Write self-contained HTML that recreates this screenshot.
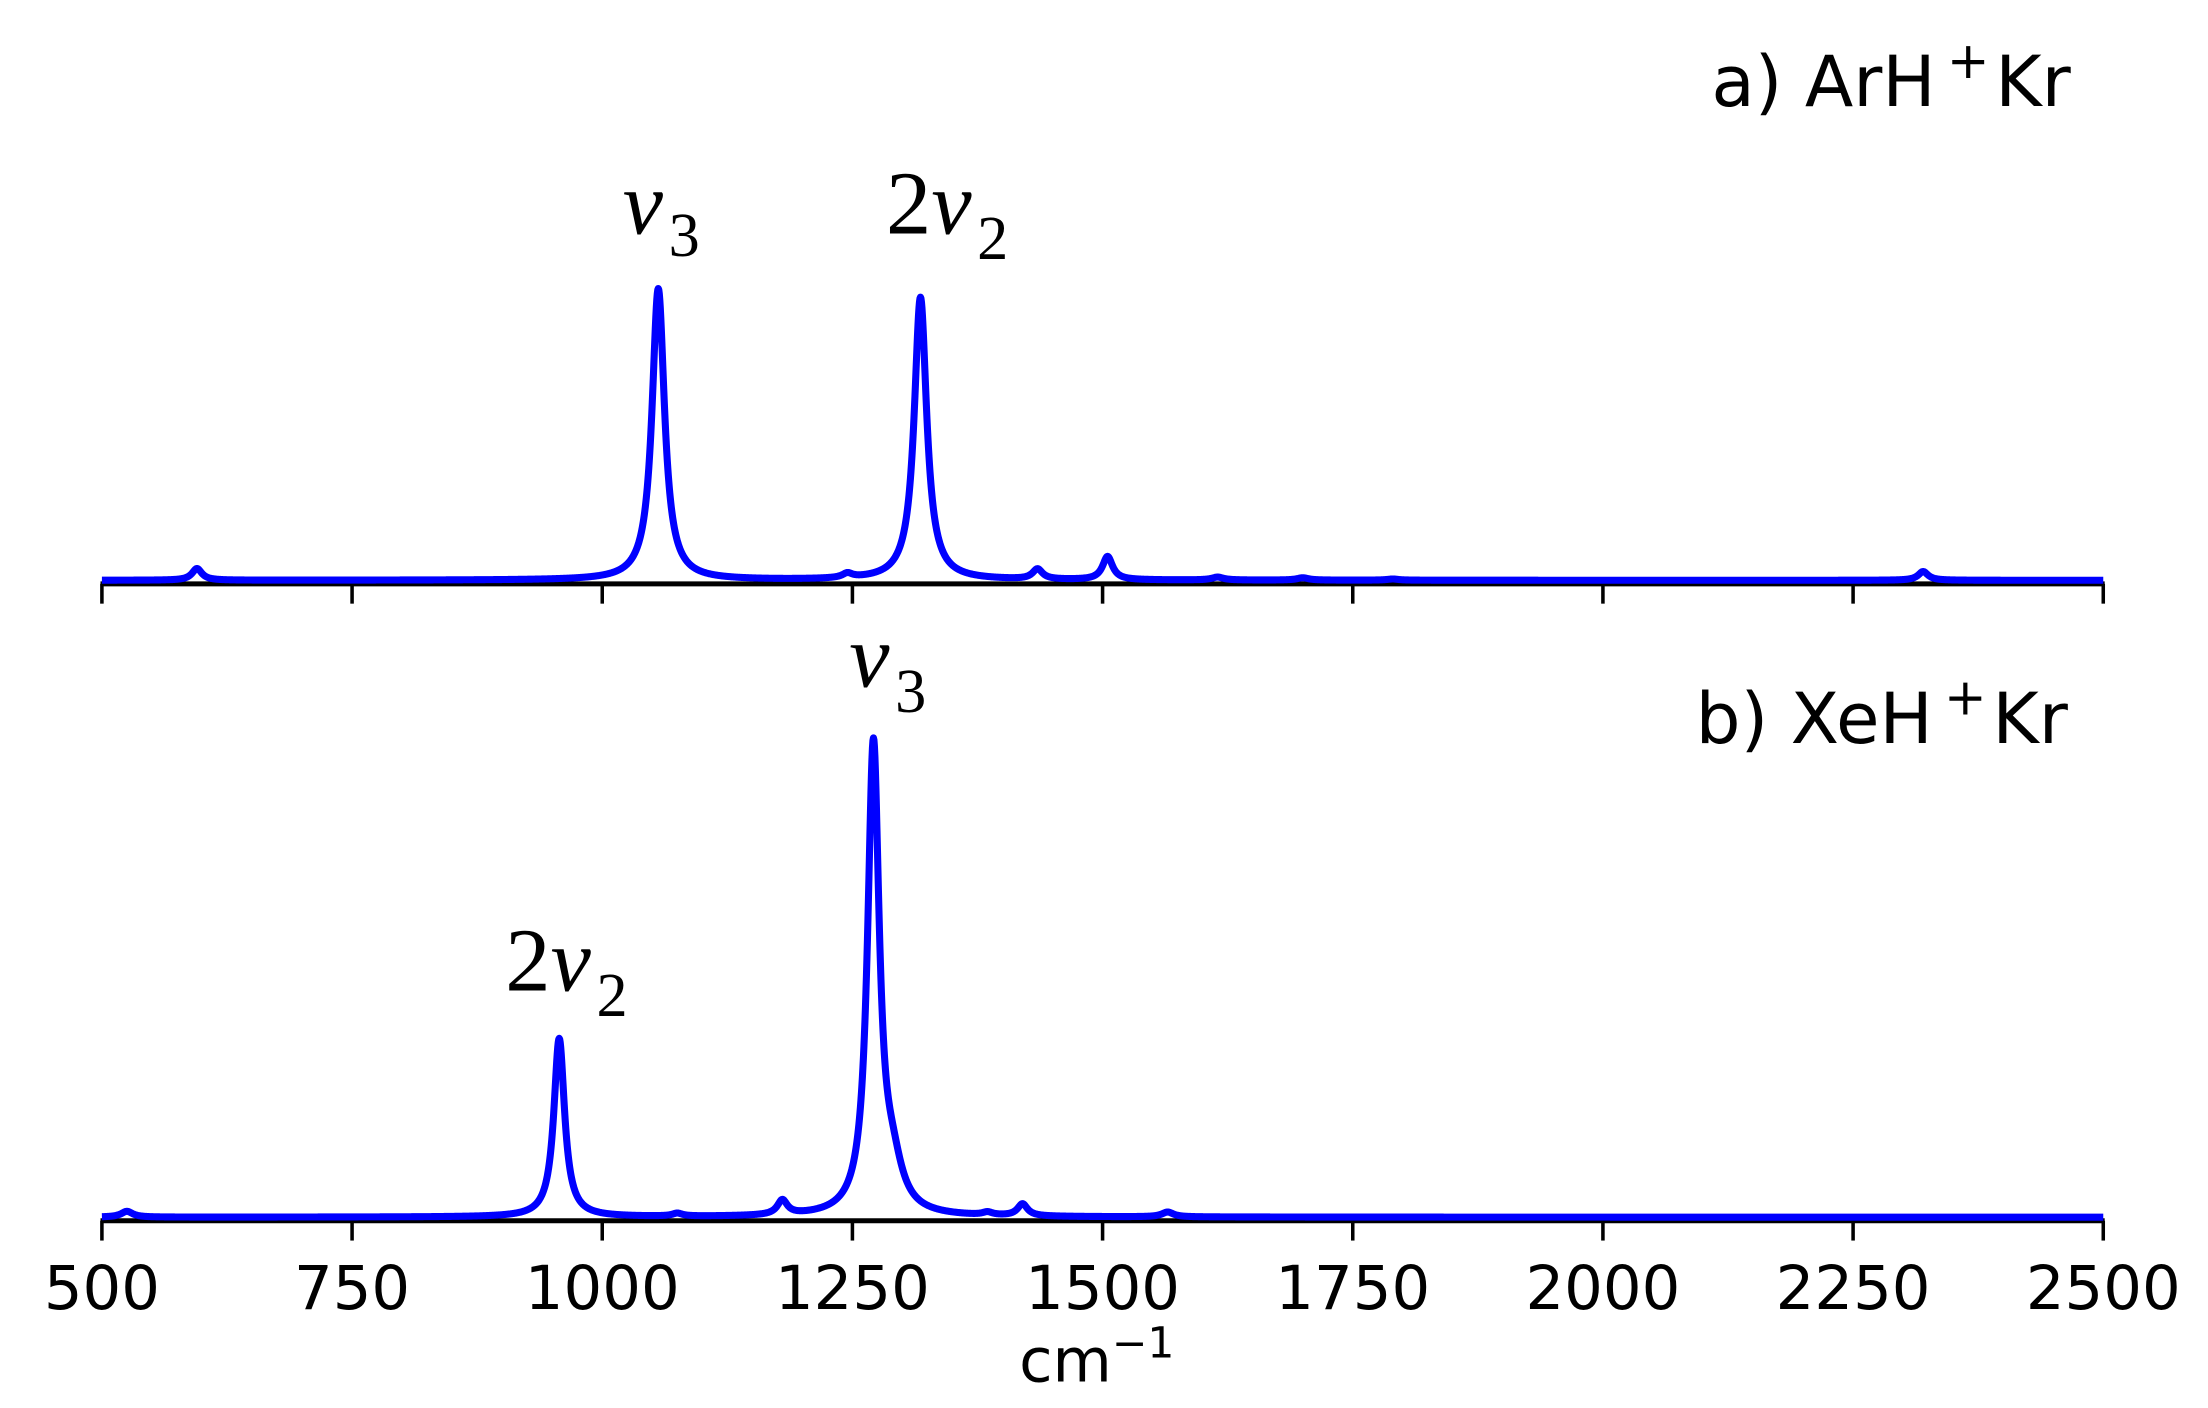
<!DOCTYPE html>
<html><head><meta charset="utf-8"><style>
html,body{margin:0;padding:0;background:#fff;}
svg{display:block;}
</style></head><body>
<svg id="chart" width="2208" height="1408" viewBox="0 0 1560 994.8" preserveAspectRatio="none" xmlns="http://www.w3.org/2000/svg">
<g id="top"></g>
<g id="bot"></g>
<g id="xaxis"></g>
<text x="1463" y="75" text-anchor="end" font-family="'DejaVu Sans','Liberation Sans',sans-serif" font-size="50">a) ArH<tspan dx="8" dy="-20" font-size="36">+</tspan><tspan dx="4" dy="20">Kr</tspan></text>
<text x="1461" y="525" text-anchor="end" font-family="'DejaVu Sans','Liberation Sans',sans-serif" font-size="50">b) XeH<tspan dx="8" dy="-20" font-size="36">+</tspan><tspan dx="4" dy="20">Kr</tspan></text>
<text x="440" y="165" font-family="'Liberation Serif',serif" font-size="64"><tspan font-style="italic">v</tspan><tspan dx="4" dy="16" font-size="44">3</tspan></text>
<text x="626" y="165" font-family="'Liberation Serif',serif" font-size="64">2<tspan font-style="italic">v</tspan><tspan dx="4" dy="18" font-size="44">2</tspan></text>
<text x="600" y="485" font-family="'Liberation Serif',serif" font-size="64"><tspan font-style="italic">v</tspan><tspan dx="4" dy="18" font-size="44">3</tspan></text>
<text x="357" y="700" font-family="'Liberation Serif',serif" font-size="64">2<tspan font-style="italic">v</tspan><tspan dx="4" dy="18" font-size="44">2</tspan></text>
<text x="720" y="976" font-family="'DejaVu Sans','Liberation Sans',sans-serif" font-size="43">cm<tspan dy="-17" font-size="30">−1</tspan></text>
</svg>
<script>
// Panel a) ArH+Kr peaks
const aCenters = [595, 1056, 1245, 1318, 1435, 1505, 1615, 1700, 1790, 2320];
const aHeights = [0.04, 1.0, 0.015, 0.97, 0.035, 0.08, 0.01, 0.008, 0.004, 0.03];
const aWidths  = [6, 7.5, 6, 7.5, 6, 6, 7, 7, 7, 6];
// Panel b) XeH+Kr peaks
const bCenters = [525, 957, 1075, 1180, 1271, 1290, 1385, 1420, 1565];
const bHeights = [0.012, 0.37, 0.006, 0.03, 0.97, 0.08, 0.006, 0.025, 0.01];
const bWidths  = [7, 6.5, 6, 6, 7, 12, 6, 6, 7];
const xTicks = [500, 750, 1000, 1250, 1500, 1750, 2000, 2250, 2500];

const NS = "http://www.w3.org/2000/svg";
const xMin = 500, xMax = 2500, xL = 72, xR = 1486;
function xs(v){ return xL + (v - xMin) / (xMax - xMin) * (xR - xL); }
function spectrum(c, h, w, x){
  let s = 0;
  for (let i = 0; i < c.length; i++){ const d = (x - c[i]) / w[i]; s += h[i] / (1 + d*d); }
  return s;
}
function drawPanel(g, c, h, w, base, scale, axisY, name){
  let d = "";
  for (let x = xMin; x <= xMax; x += 0.5){
    const y = base - spectrum(c, h, w, x) * scale;
    d += (x === xMin ? "M" : "L") + xs(x).toFixed(2) + "," + y.toFixed(2);
  }
  const ax = document.createElementNS(NS, "line");
  
  
  ax.setAttribute("x1", xL - 1); ax.setAttribute("x2", xR + 1);
  ax.setAttribute("y1", axisY); ax.setAttribute("y2", axisY);
  ax.setAttribute("stroke", "#000"); ax.setAttribute("stroke-width", "3.5");
  g.appendChild(ax);
  xTicks.forEach(t => {
    const tk = document.createElementNS(NS, "line");
    
    
    tk.setAttribute("x1", xs(t)); tk.setAttribute("x2", xs(t));
    tk.setAttribute("y1", axisY); tk.setAttribute("y2", axisY + 14);
    tk.setAttribute("stroke", "#000"); tk.setAttribute("stroke-width", "2.5");
    g.appendChild(tk);
  });
  const p = document.createElementNS(NS, "path");
  
  
  p.setAttribute("d", d);
  p.setAttribute("fill", "none"); p.setAttribute("stroke", "#0000ff");
  p.setAttribute("stroke-width", "5"); p.setAttribute("stroke-linejoin", "round");
  g.appendChild(p);
}
drawPanel(document.getElementById("top"), aCenters, aHeights, aWidths, 410, 206, 412.5, "panel-a");
drawPanel(document.getElementById("bot"), bCenters, bHeights, bWidths, 860, 341, 862.5, "panel-b");
const xa = document.getElementById("xaxis");
xTicks.forEach(t => {
  const tx = document.createElementNS(NS, "text");
  
  
  tx.setAttribute("x", xs(t)); tx.setAttribute("y", 925);
  tx.setAttribute("text-anchor", "middle");
  tx.setAttribute("font-family", "'DejaVu Sans','Liberation Sans',sans-serif");
  tx.setAttribute("font-size", "43");
  tx.textContent = t;
  xa.appendChild(tx);
});
</script>
</body></html>
